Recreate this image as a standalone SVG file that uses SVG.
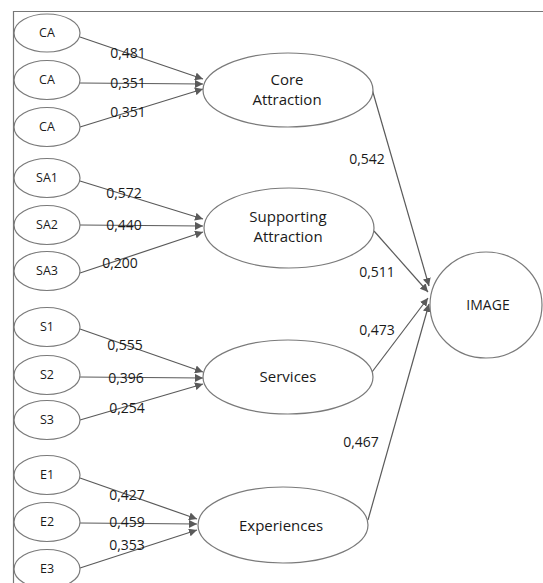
<svg xmlns="http://www.w3.org/2000/svg" width="543" height="583" viewBox="0 0 543 583">
<style>
.n{fill:#fff;stroke:#7a7a7a;stroke-width:1.2}
.t{font-family:"Open Sans","Liberation Sans",sans-serif;fill:#1a1a1a;text-anchor:middle}
.s{font-size:12.5px}
.b{font-size:15px}
.i{font-size:14px}
.l{font-family:"Open Sans","Liberation Sans",sans-serif;font-size:14px;fill:#1a1a1a;text-anchor:middle}
.c{stroke:#5a5a5a;stroke-width:1.2;fill:none;marker-end:url(#ah)}
</style>
<defs>
<marker id="ah" viewBox="0 0 10 10" refX="10" refY="5" markerWidth="8" markerHeight="8" markerUnits="userSpaceOnUse" orient="auto">
<path d="M0,0 L10,5 L0,10 z" fill="#5a5a5a"/>
</marker>
</defs>
<rect width="543" height="583" fill="#fff"/>
<path d="M13.5,583 V11.5 H543" fill="none" stroke="#777" stroke-width="1.2"/>
<g id="connectors">
<line class="c" x1="80" y1="37" x2="203" y2="79"/>
<line class="c" x1="80" y1="83" x2="203" y2="84"/>
<line class="c" x1="80" y1="127" x2="203" y2="89"/>
<line class="c" x1="80" y1="181" x2="203" y2="219"/>
<line class="c" x1="80" y1="225" x2="203" y2="226"/>
<line class="c" x1="80" y1="273" x2="203" y2="232"/>
<line class="c" x1="80" y1="329" x2="203" y2="372"/>
<line class="c" x1="80" y1="377" x2="203" y2="378"/>
<line class="c" x1="80" y1="420" x2="203" y2="384"/>
<line class="c" x1="80" y1="478" x2="197" y2="519"/>
<line class="c" x1="80" y1="523" x2="197" y2="524"/>
<line class="c" x1="80" y1="568" x2="197" y2="530"/>
<line class="c" x1="372" y1="89" x2="429" y2="286"/>
<line class="c" x1="374" y1="231" x2="428" y2="292"/>
<line class="c" x1="372" y1="372" x2="428" y2="298"/>
<line class="c" x1="368" y1="520" x2="429" y2="304"/>
</g>
<g id="CA1"><ellipse class="n" cx="47" cy="33" rx="33" ry="19"/><text class="t s" x="47" y="37">CA</text></g>
<g id="CA2"><ellipse class="n" cx="47" cy="80" rx="33" ry="19.5"/><text class="t s" x="47" y="84">CA</text></g>
<g id="CA3"><ellipse class="n" cx="47" cy="127" rx="33" ry="19.5"/><text class="t s" x="47" y="131">CA</text></g>
<g id="SA1"><ellipse class="n" cx="47" cy="178" rx="33" ry="19.5"/><text class="t s" x="47" y="182">SA1</text></g>
<g id="SA2"><ellipse class="n" cx="47" cy="225" rx="33" ry="19.5"/><text class="t s" x="47" y="229">SA2</text></g>
<g id="SA3"><ellipse class="n" cx="47" cy="271" rx="33" ry="19.5"/><text class="t s" x="47" y="275">SA3</text></g>
<g id="S1"><ellipse class="n" cx="47" cy="327" rx="33" ry="19.5"/><text class="t s" x="47" y="331">S1</text></g>
<g id="S2"><ellipse class="n" cx="47" cy="375" rx="33" ry="19.5"/><text class="t s" x="47" y="379">S2</text></g>
<g id="S3"><ellipse class="n" cx="47" cy="420" rx="33" ry="19.5"/><text class="t s" x="47" y="424">S3</text></g>
<g id="E1"><ellipse class="n" cx="47" cy="475" rx="33" ry="19.5"/><text class="t s" x="47" y="479">E1</text></g>
<g id="E2"><ellipse class="n" cx="47" cy="522" rx="33" ry="19.5"/><text class="t s" x="47" y="526">E2</text></g>
<g id="E3"><ellipse class="n" cx="47" cy="569" rx="33" ry="19.5"/><text class="t s" x="47" y="573">E3</text></g>
<g id="core"><ellipse class="n" cx="288" cy="90" rx="85" ry="37"/><text class="t b" x="287" y="85">Core</text><text class="t b" x="287" y="105">Attraction</text></g>
<g id="supporting"><ellipse class="n" cx="289" cy="228" rx="85" ry="40"/><text class="t b" x="288" y="222">Supporting</text><text class="t b" x="288" y="242">Attraction</text></g>
<g id="services"><ellipse class="n" cx="288" cy="377" rx="85" ry="37"/><text class="t b" x="288" y="382">Services</text></g>
<g id="experiences"><ellipse class="n" cx="283" cy="525" rx="85" ry="38"/><text class="t b" x="281" y="531">Experiences</text></g>
<g id="image"><ellipse class="n" cx="486" cy="305" rx="56" ry="53"/><text class="t i" x="488" y="310">IMAGE</text></g>
<g id="labels">
<text class="l" x="128" y="58">0,481</text>
<text class="l" x="128" y="88">0,351</text>
<text class="l" x="128" y="117">0,351</text>
<text class="l" x="124" y="198">0,572</text>
<text class="l" x="124" y="230">0,440</text>
<text class="l" x="120" y="268">0,200</text>
<text class="l" x="125" y="350">0,555</text>
<text class="l" x="126" y="383">0,396</text>
<text class="l" x="127" y="413">0,254</text>
<text class="l" x="127" y="500">0,427</text>
<text class="l" x="127" y="527">0,459</text>
<text class="l" x="127" y="550">0,353</text>
<text class="l" x="367" y="164">0,542</text>
<text class="l" x="377" y="277">0,511</text>
<text class="l" x="377" y="335">0,473</text>
<text class="l" x="361" y="447">0,467</text>
</g>
</svg>
